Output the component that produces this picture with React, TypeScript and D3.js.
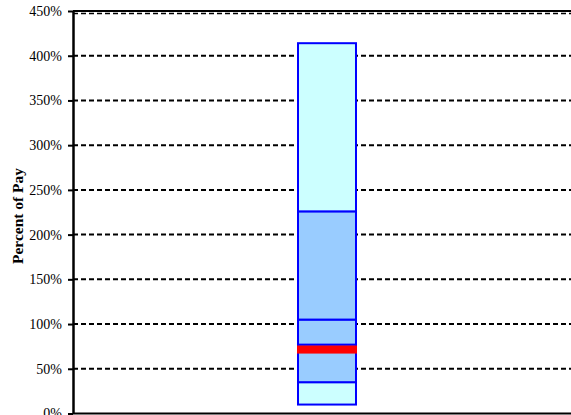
import React, { useEffect, useRef } from 'react';
import * as d3 from 'd3';

// stacked segments of the single bar, [bottom, top] in percent of pay
const categories = [''];
const segLow = [10, 35, 77, 105, 226];
const segHigh = [35, 77, 105, 226, 414];
const segFill = ['#ccffff', '#99ccff', '#99ccff', '#99ccff', '#ccffff'];
// red marker band
const markerLow = 67;
const markerHigh = 76;
const yTicks = [0, 50, 100, 150, 200, 250, 300, 350, 400, 450];

export default function App() {
  const ref = useRef<SVGSVGElement>(null);

  useEffect(() => {
    const width = 571, height = 415;
    const marginLeft = 73, marginTop = 11, marginBottom = 1.5, marginRight = -10;
    const svg = d3.select(ref.current);
    svg.selectAll('*').remove();

    const x = d3.scaleBand(categories, [marginLeft, width - marginRight])
      .paddingInner(0)
      .paddingOuter(3.88);
    const y = d3.scaleLinear([0, 450], [height - marginBottom, marginTop]);

    // dashed grid lines
    svg.append('g')
      .selectAll('line')
      .data(yTicks.filter(d => d > 0 && d < 450))
      .join('line')
      .attr('x1', marginLeft)
      .attr('x2', width)
      .attr('y1', d => y(d))
      .attr('y2', d => y(d))
      .attr('stroke', '#000')
      .attr('stroke-width', 2)
      .attr('stroke-dasharray', '5,3');

    // top and bottom frame lines
    svg.append('line')
      .attr('x1', marginLeft).attr('x2', width)
      .attr('y1', y(450)).attr('y2', y(450))
      .attr('stroke', '#000').attr('stroke-width', 2);
    svg.append('line')
      .attr('x1', marginLeft).attr('x2', width)
      .attr('y1', y(450) + 2.5).attr('y2', y(450) + 2.5)
      .attr('stroke', '#000').attr('stroke-width', 1.5)
      .attr('stroke-dasharray', '5,3');
    svg.append('line')
      .attr('x1', marginLeft).attr('x2', width)
      .attr('y1', y(0)).attr('y2', y(0))
      .attr('stroke', '#000').attr('stroke-width', 2);

    // bar segments
    const bx = x('')!;
    const bw = x.bandwidth();
    svg.append('g')
      .selectAll('rect')
      .data(segLow.map((lo, i) => ({ lo, hi: segHigh[i], fill: segFill[i] })))
      .join('rect')
      .attr('x', bx)
      .attr('width', bw)
      .attr('y', d => y(d.hi))
      .attr('height', d => y(d.lo) - y(d.hi))
      .attr('fill', d => d.fill)
      .attr('stroke', '#0000ff')
      .attr('stroke-width', 2);

    svg.append('rect')
      .attr('x', bx - 1)
      .attr('width', bw + 2)
      .attr('y', y(markerHigh))
      .attr('height', y(markerLow) - y(markerHigh))
      .attr('fill', '#ff0000');

    // y axis
    const yAxis = d3.axisLeft(y)
      .tickValues(yTicks)
      .tickFormat(d => `${d}%`)
      .tickSizeInner(5)
      .tickSizeOuter(0)
      .tickPadding(6);
    svg.append('g')
      .attr('transform', `translate(${marginLeft},0)`)
      .call(yAxis)
      .call(g => g.select('.domain').attr('stroke-width', 2.5))
      .call(g => g.selectAll('.tick line').attr('stroke-width', 2))
      .call(g => g.selectAll('.tick text')
        .attr('font-family', '"Liberation Serif", "Times New Roman", serif')
        .attr('font-size', 14)
        .attr('fill', '#000'));

    svg.append('text')
      .attr('transform', `translate(23,216) rotate(-90)`)
      .attr('text-anchor', 'middle')
      .attr('font-family', '"Liberation Serif", "Times New Roman", serif')
      .attr('font-weight', 'bold')
      .attr('font-size', 15.5)
      .text('Percent of Pay');
  }, []);

  return (
    <svg ref={ref} width={571} height={415}
      style={{ position: 'absolute', left: 0, top: 0, background: '#fff', overflow: 'hidden' }} />
  );
}
